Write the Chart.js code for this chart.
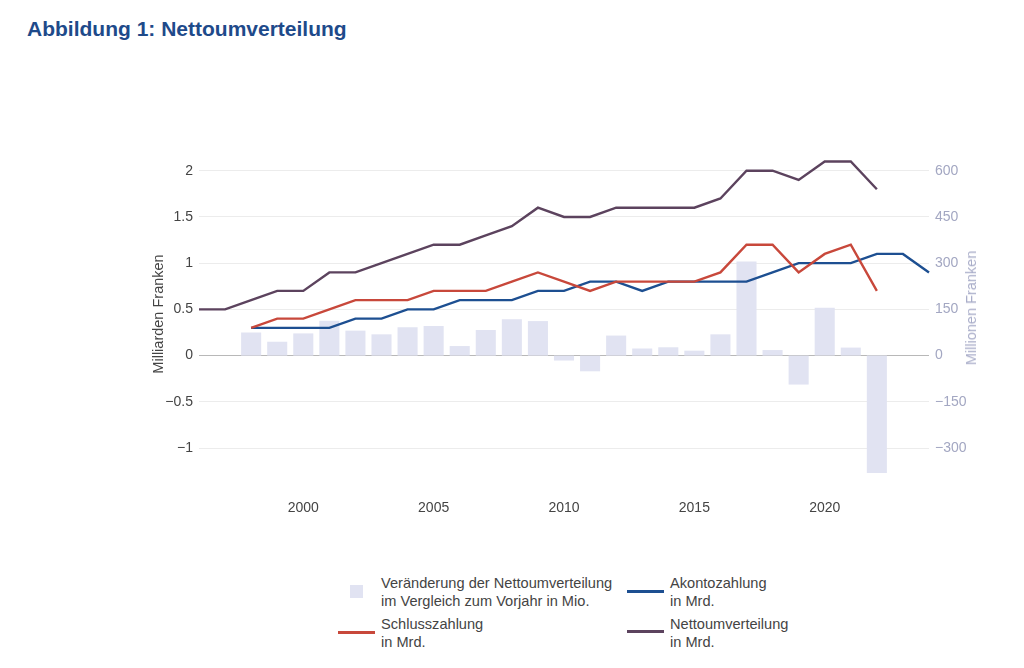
<!DOCTYPE html>
<html>
<head>
<meta charset="utf-8">
<script src="https://cdn.jsdelivr.net/npm/chart.js@4"></script>
<style>
  body { margin: 0; background: #fff; font-family: "Liberation Sans", Arial, sans-serif; }
  #wrap { position: relative; width: 1024px; height: 668px; overflow: hidden; }
  #title { position: absolute; left: 27px; top: 17px; font-size: 21px; font-weight: bold; color: #1e4a8a; white-space: nowrap; }
  #chart { position: absolute; left: 0; top: 0; }
  #rtitle { position: absolute; left: 971px; top: 308px; transform: translate(-50%, -50%) rotate(-90deg); font-size: 14.5px; color: #a9adc9; white-space: nowrap; }
  .lg-txt { position: absolute; font-size: 14.6px; line-height: 18.4px; color: #444; white-space: nowrap; }
  .lg-line { position: absolute; height: 3px; width: 37px; }
  .lg-box { position: absolute; width: 13px; height: 13px; }
</style>
</head>
<body>
<div id="wrap">
  <div id="title">Abbildung 1: Nettoumverteilung</div>
  <canvas id="chart" width="1024" height="540"></canvas>
  <div id="rtitle">Millionen Franken</div>
  <div id="legend"></div>
</div>
<script>
// data
const years = [1996, 1997, 1998, 1999, 2000, 2001, 2002, 2003, 2004, 2005, 2006, 2007, 2008, 2009,
  2010, 2011, 2012, 2013, 2014, 2015, 2016, 2017, 2018, 2019, 2020, 2021, 2022, 2023, 2024];
const changeMio = [null, null, 75, 45, 72, 113, 81, 69, 92, 96, 31, 83, 118, 112,
  -16, -51, 65, 23, 27, 16, 69, 305, 18, -94, 155, 26, -381, null, null];
const akonto = [null, null, 0.3, 0.3, 0.3, 0.3, 0.4, 0.4, 0.5, 0.5, 0.6, 0.6, 0.6, 0.7,
  0.7, 0.8, 0.8, 0.7, 0.8, 0.8, 0.8, 0.8, 0.9, 1.0, 1.0, 1.0, 1.1, 1.1, 0.9];
const schluss = [null, null, 0.3, 0.4, 0.4, 0.5, 0.6, 0.6, 0.6, 0.7, 0.7, 0.7, 0.8, 0.9,
  0.8, 0.7, 0.8, 0.8, 0.8, 0.8, 0.9, 1.2, 1.2, 0.9, 1.1, 1.2, 0.7, null, null];
const netto = [0.5, 0.5, 0.6, 0.7, 0.7, 0.9, 0.9, 1.0, 1.1, 1.2, 1.2, 1.3, 1.4, 1.6,
  1.5, 1.5, 1.6, 1.6, 1.6, 1.6, 1.7, 2.0, 2.0, 1.9, 2.1, 2.1, 1.8, null, null];
const leftTicks = [-1, -0.5, 0, 0.5, 1, 1.5, 2];
const rightTicks = [-300, -150, 0, 150, 300, 450, 600];

const colBar = '#e1e3f2', colAkonto = '#1d4f91', colSchluss = '#c8483b', colNetto = '#5c435e';
const FONT = '"Liberation Sans", Arial, sans-serif';
const minus = v => String(v).replace('-', '\u2212');

new Chart(document.getElementById('chart'), {
  type: 'bar',
  data: {
    labels: years,
    datasets: [
      { type: 'bar', label: 'Veränderung', data: changeMio, yAxisID: 'y1', backgroundColor: colBar,
        categoryPercentage: 1, barPercentage: 0.77, order: 4 },
      { type: 'line', label: 'Akontozahlung', data: akonto, yAxisID: 'y', borderColor: colAkonto,
        borderWidth: 2.4, pointRadius: 0, tension: 0, order: 3 },
      { type: 'line', label: 'Schlusszahlung', data: schluss, yAxisID: 'y', borderColor: colSchluss,
        borderWidth: 2.4, pointRadius: 0, tension: 0, order: 2 },
      { type: 'line', label: 'Nettoumverteilung', data: netto, yAxisID: 'y', borderColor: colNetto,
        borderWidth: 2.4, pointRadius: 0, tension: 0, order: 1 }
    ]
  },
  options: {
    responsive: false,
    animation: false,
    devicePixelRatio: 1,
    layout: { padding: { left: 150, right: 0, top: 143, bottom: 0 } },
    plugins: { legend: { display: false }, tooltip: { enabled: false } },
    scales: {
      x: {
        type: 'category',
        offset: false,
        grid: { display: false, drawTicks: false },
        border: { display: false },
        ticks: {
          autoSkip: false, maxRotation: 0, padding: 15,
          color: '#444', font: { family: FONT, size: 14 },
          callback: (v, i) => years[i] % 5 === 0 ? String(years[i]) : ''
        },
        afterFit: s => { s.height = 55; }
      },
      y: {
        position: 'left', min: -1.4, max: 2.3,
        afterBuildTicks: s => { s.ticks = leftTicks.map(v => ({ value: v })); },
        grid: { drawTicks: false, color: c => c.tick && c.tick.value === 0 ? '#b8b8b8' : '#ececec' },
        border: { display: false },
        ticks: { padding: 6, color: '#444', font: { family: FONT, size: 14 }, callback: v => minus(v) },
        title: { display: true, text: 'Milliarden Franken', color: '#444', padding: 0, font: { family: FONT, size: 14.5 } },
        afterFit: s => { s.width = 49; }
      },
      y1: {
        position: 'right', min: -420, max: 690,
        afterBuildTicks: s => { s.ticks = rightTicks.map(v => ({ value: v })); },
        grid: { display: false, drawTicks: false },
        border: { display: false },
        ticks: { padding: 6, color: '#a3a7c2', font: { family: FONT, size: 14 }, callback: v => minus(v) },
        afterFit: s => { s.width = 95; }
      }
    }
  }
});

// legend (two-line labels, laid out like the original)
const legendItems = [
  { kind: 'box', color: colBar, mx: 350, my: 585, tx: 381, ty: 574, text: 'Veränderung der Nettoumverteilung<br>im Vergleich zum Vorjahr in Mio.' },
  { kind: 'line', color: colAkonto, mx: 627, my: 590, tx: 670, ty: 574, text: 'Akontozahlung<br>in Mrd.' },
  { kind: 'line', color: colSchluss, mx: 338, my: 631, tx: 381, ty: 615, text: 'Schlusszahlung<br>in Mrd.' },
  { kind: 'line', color: colNetto, mx: 627, my: 630, tx: 670, ty: 615, text: 'Nettoumverteilung<br>in Mrd.' }
];
document.getElementById('legend').innerHTML = legendItems.map(it => `
  <div class="${it.kind === 'box' ? 'lg-box' : 'lg-line'}" style="left:${it.mx}px;top:${it.my}px;background:${it.color}"></div>
  <div class="lg-txt" style="left:${it.tx}px;top:${it.ty}px">${it.text}</div>
`).join('');
</script>
</body>
</html>
